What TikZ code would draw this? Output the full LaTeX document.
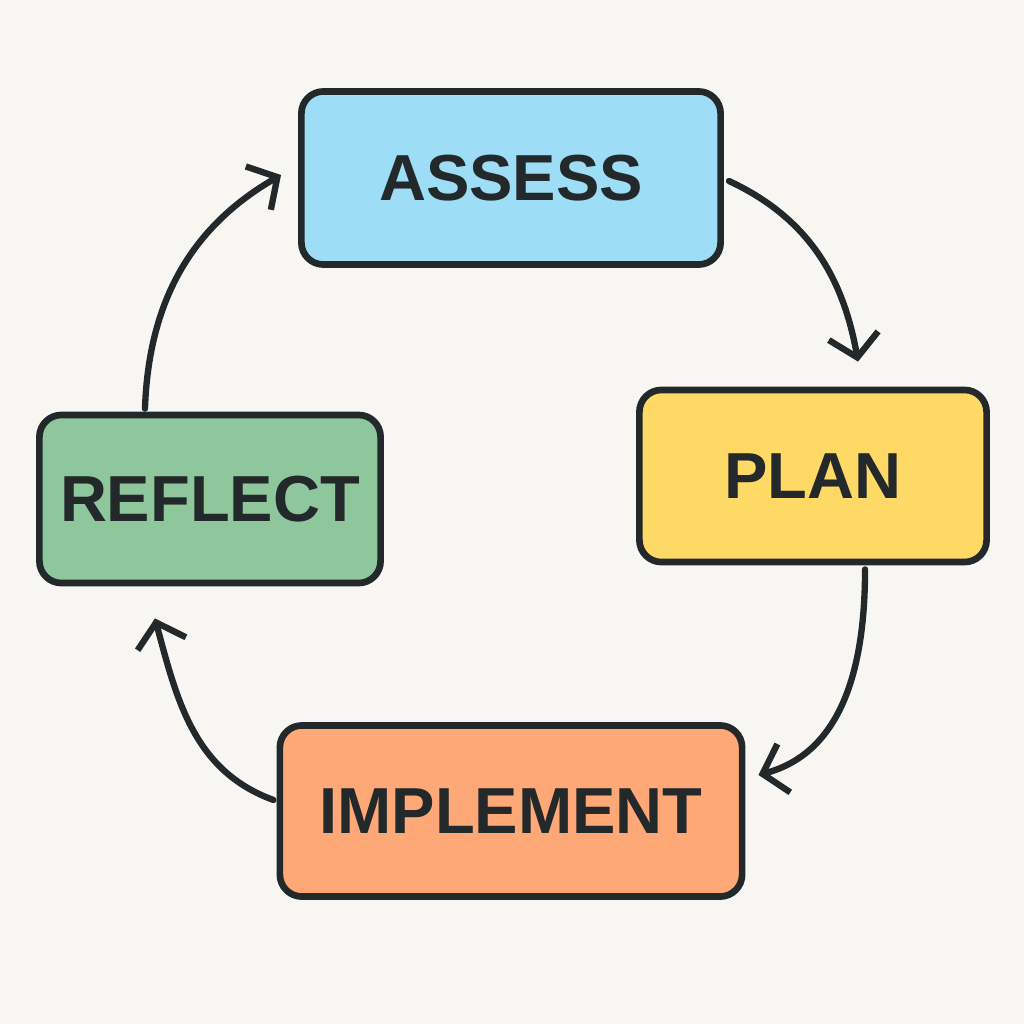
\documentclass[tikz,border=0pt]{standalone}
\usepackage{fontspec}
\setmainfont{Liberation Sans}
\usetikzlibrary{arrows.meta}
\definecolor{bgcol}{HTML}{F8F6F2}
\definecolor{inkcol}{HTML}{23282B}
\definecolor{assesscol}{HTML}{9DDDF5}
\definecolor{plancol}{HTML}{FFD966}
\definecolor{implcol}{HTML}{FFA877}
\definecolor{reflcol}{HTML}{8DC79B}
\tikzset{
  stage/.style={draw=inkcol, line width=1.9pt, rounded corners=0.22cm, inner sep=0pt,
    font=\fontsize{18.5}{22}\selectfont\bfseries, text=inkcol},
  cycle arrow/.style={draw=inkcol, line width=1.8pt, -{Straight Barb[length=2.2mm,width=5mm,line width=1.8pt]}}
}
\begin{document}
\begin{tikzpicture}[x=0.01cm, y=-0.01cm, line cap=round, line join=round]
  \fill[bgcol] (0,0) rectangle (1024,1024);
  \useasboundingbox (0,0) rectangle (1024,1024);
  % stages
  \node[stage, fill=assesscol, minimum width=4.19cm, minimum height=1.73cm] (assess) at (511,178) {ASSESS};
  \node[stage, fill=plancol, minimum width=3.47cm, minimum height=1.72cm] (plan) at (813,476) {PLAN};
  \node[stage, fill=implcol, minimum width=4.62cm, minimum height=1.71cm] (implement) at (511,811) {IMPLEMENT};
  \node[stage, fill=reflcol, minimum width=3.41cm, minimum height=1.68cm] (reflect) at (210,499) {REFLECT};
  % arrows
  \draw[cycle arrow] ([xshift=0.05cm,yshift=-0.03cm]assess.east) to[out=-25, in=100] ([xshift=0.45cm,yshift=0.25cm]plan.north);
  \draw[cycle arrow] ([xshift=0.52cm,yshift=-0.04cm]plan.south) to[out=-90, in=15] ([xshift=0.13cm,yshift=0.36cm]implement.east);
  \draw[cycle arrow] ([xshift=-0.03cm,yshift=0.11cm]implement.west) to[out=160, in=-75] ([xshift=-0.55cm,yshift=-0.32cm]reflect.south);
  \draw[cycle arrow] ([xshift=-0.65cm,yshift=0.03cm]reflect.north) to[out=88, in=210] ([xshift=-0.17cm,yshift=0.03cm]assess.west);
\end{tikzpicture}
\end{document}
